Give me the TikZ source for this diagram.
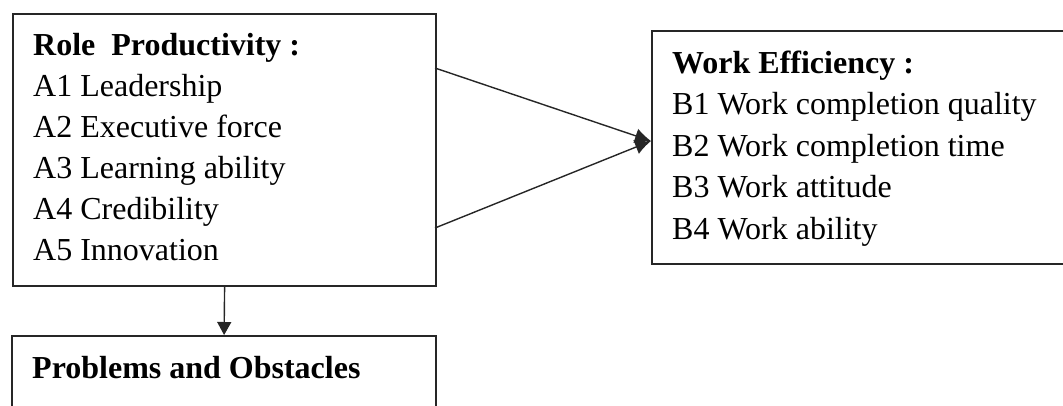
\documentclass[tikz,border=0pt]{standalone}
\usepackage{fontspec}
\setmainfont{Liberation Serif}
\usetikzlibrary{arrows.meta}

\tikzset{
    caixa/.style={draw=black!85, line width=2.2pt, anchor=north west, inner sep=0pt},
    item/.style={anchor=base west, inner sep=0pt, font=\fontsize{32}{38}\selectfont},
    titulo/.style={item, font=\fontsize{32}{38}\selectfont\bfseries},
    seta/.style={black!85, line width=1.4pt},
}

\begin{document}
\begin{tikzpicture}[x=1pt,y=-1pt]
    \useasboundingbox (0,0) rectangle (1063,405);

    % Caixas
    \node[caixa, minimum width=423pt, minimum height=272pt] (role) at (12,13) {};
    \node[caixa, minimum width=440pt, minimum height=233pt] (eff) at (651,30) {};
    \node[caixa, minimum width=424pt, minimum height=100pt] (prob) at (11,335) {};

    % Produtividade
    \node[titulo] (a0) at (33,55) {Role\ \ Productivity :};
    \foreach \txt [count=\i] in {A1 Leadership, A2 Executive force, A3 Learning ability, A4 Credibility, A5 Innovation}
        \node[item] (a\i) at (33,55+41*\i) {\txt};

    % Eficiencia
    \node[titulo] (b0) at (672,73) {Work Efficiency :};
    \foreach \txt [count=\i] in {B1 Work completion quality, B2 Work completion time, B3 Work attitude, B4 Work ability}
        \node[item] (b\i) at (672,73+41.5*\i) {\txt};

    % Problemas
    \node[titulo] (c0) at (32,378) {Problems and Obstacles};

    % Setas
    \coordinate (r1) at (435,68);
    \coordinate (r2) at (435,228);
    \coordinate (ponta) at (651,141);
    \draw[seta, -{Latex[length=16pt,width=15pt]}] (r1) -- (ponta);
    \draw[seta, -{Latex[length=16pt,width=15pt]}] (r2) -- (ponta);
    \draw[seta, -{Triangle[length=13pt,width=14pt]}] (role.south) -- (prob.north);
\end{tikzpicture}
\end{document}
